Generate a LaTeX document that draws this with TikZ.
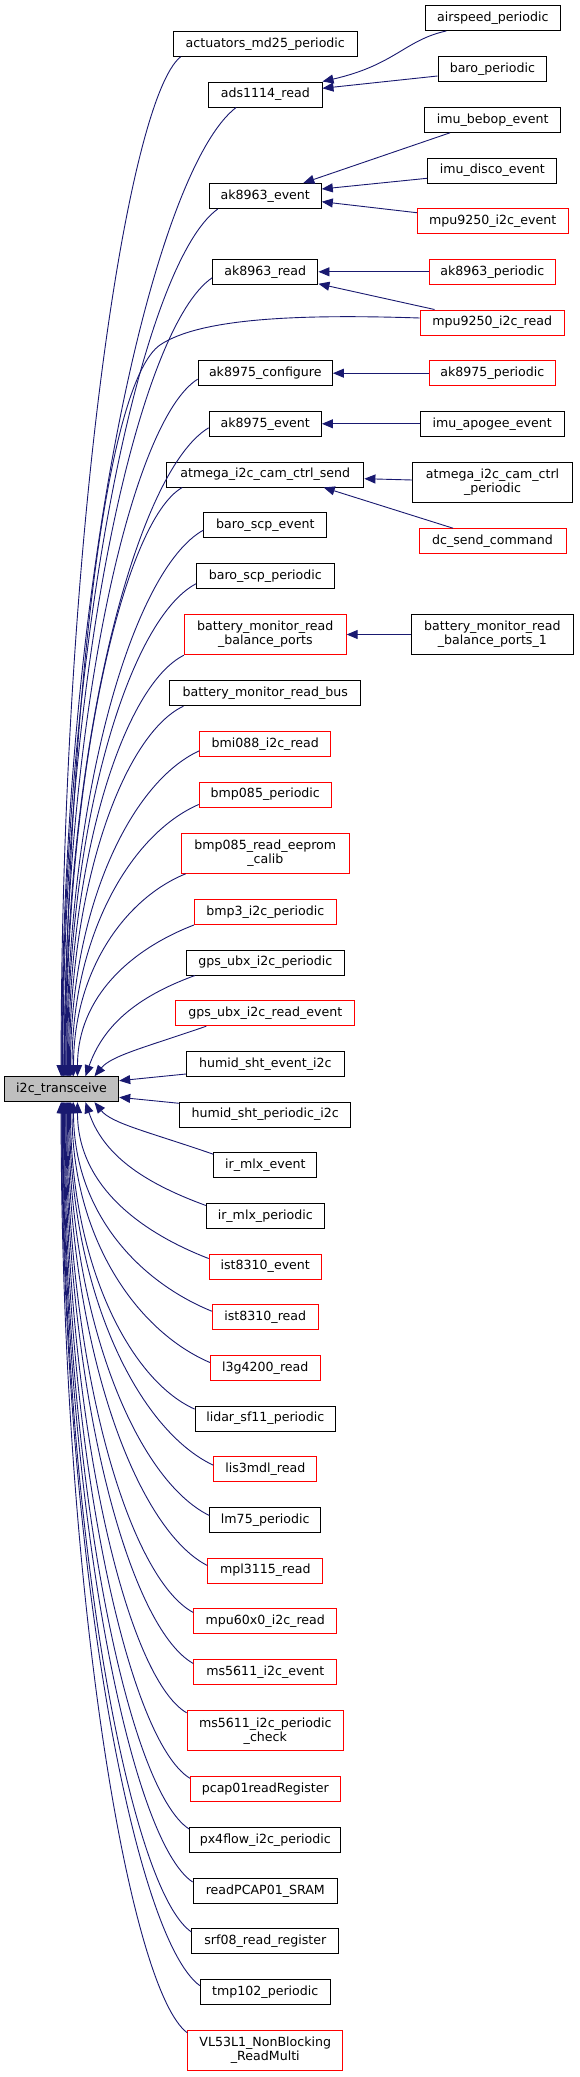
\documentclass[tikz,border=0pt]{standalone}
\usepackage{fontspec}
\setmainfont{DejaVu Sans}
\usetikzlibrary{arrows.meta,calc}
\definecolor{edgeblue}{HTML}{191970}
\definecolor{boxred}{HTML}{FF0000}
\definecolor{boxgray}{HTML}{BFBFBF}
\tikzset{
  fn/.style={draw=black, fill=white, line width=1pt, inner sep=0pt, minimum height=25pt,
    font=\fontsize{12.6}{14}\selectfont, align=center},
  redbox/.style={draw=boxred},
  twoline/.style={minimum height=40.4pt},
  focusbox/.style={fill=boxgray},
  callarrow/.style={draw=edgeblue, line width=0.9pt, -{Triangle[length=11pt,width=9pt]}}
}
\newcommand\upcall[4]{%
  \pgfmathsetmacro\dY{1077-#3}%
  \pgfmathsetmacro\dA{0.52*\dY}%
  \pgfmathsetmacro\dB{0.58*(#2-#4)}%
  \pgfmathsetmacro\aO{180+min(45,18+0.02*\dY)}%
  \pgfmathsetmacro\aI{90-max(0,60-0.4*\dY)}%
  \draw[callarrow] (#1) to[out=\aO,in=\aI,out distance=\dB pt,in distance=\dA pt] ($(i2c.north west)+(#4-4.3,0)$);
}
\newcommand\downcall[4]{%
  \pgfmathsetmacro\dY{#3-1102}%
  \pgfmathsetmacro\dA{0.52*\dY}%
  \pgfmathsetmacro\dB{0.58*(#2-#4)}%
  \pgfmathsetmacro\aO{180-min(45,18+0.02*\dY)}%
  \pgfmathsetmacro\aI{270+max(0,60-0.4*\dY)}%
  \draw[callarrow] (#1) to[out=\aO,in=\aI,out distance=\dB pt,in distance=\dA pt] ($(i2c.south west)+(#4-4.3,0)$);
}
\begin{document}
\begin{tikzpicture}[x=1pt,y=1pt]
\useasboundingbox[fill=white] (0,0) rectangle (579,-2077);
% focus node
\node[fn,focusbox,minimum width=114.4] (i2c) at (61.5,-1089.2) {i2c\_transceive};
% middle column
\node[fn,minimum width=184.3] (act) at (265.3,-43.8) {actuators\_md25\_periodic};
\node[fn,minimum width=113.4] (ads) at (265.3,-94.5) {ads1114\_read};
\node[fn,minimum width=112] (a63e) at (265.3,-196) {ak8963\_event};
\node[fn,minimum width=105.3] (a63r) at (265.3,-271.8) {ak8963\_read};
\node[fn,minimum width=134.3] (a75c) at (265.3,-373.2) {ak8975\_configure};
\node[fn,minimum width=112.3] (a75e) at (265.3,-423.8) {ak8975\_event};
\node[fn,minimum width=197.2] (ats) at (265.3,-474.5) {atmega\_i2c\_cam\_ctrl\_send};
\node[fn,minimum width=123] (bse) at (265.3,-525.2) {baro\_scp\_event};
\node[fn,minimum width=137.7] (bsp) at (265.3,-575.8) {baro\_scp\_periodic};
\node[fn,redbox,twoline,minimum width=161.7] (bbp) at (265.3,-634.5) {battery\_monitor\_read\\\_balance\_ports};
\node[fn,minimum width=190.9] (bbus) at (265.3,-693.2) {battery\_monitor\_read\_bus};
\node[fn,redbox,minimum width=131] (bmi) at (265.3,-743.8) {bmi088\_i2c\_read};
\node[fn,redbox,minimum width=132.2] (b85p) at (265.3,-794.5) {bmp085\_periodic};
\node[fn,redbox,twoline,minimum width=168.3,minimum height=40] (b85e) at (265.3,-853.3) {bmp085\_read\_eeprom\\\_calib};
\node[fn,redbox,minimum width=141.7] (bmp3) at (265.3,-912) {bmp3\_i2c\_periodic};
\node[fn,minimum width=157.7] (gpsp) at (265.3,-962.5) {gps\_ubx\_i2c\_periodic};
\node[fn,redbox,minimum width=179] (gpsr) at (265.3,-1013.2) {gps\_ubx\_i2c\_read\_event};
\node[fn,minimum width=157.7] (hse) at (265.3,-1063.8) {humid\_sht\_event\_i2c};
\node[fn,minimum width=171] (hsp) at (265.3,-1114.5) {humid\_sht\_periodic\_i2c};
\node[fn,minimum width=103] (irme) at (265.3,-1165.2) {ir\_mlx\_event};
\node[fn,minimum width=117.7] (irmp) at (265.3,-1215.8) {ir\_mlx\_periodic};
\node[fn,redbox,minimum width=112.3] (iste) at (265.3,-1266.5) {ist8310\_event};
\node[fn,redbox,minimum width=106] (istr) at (265.3,-1317.2) {ist8310\_read};
\node[fn,redbox,minimum width=109.7] (l3g) at (265.3,-1367.8) {l3g4200\_read};
\node[fn,minimum width=140.3] (lid) at (265.3,-1418.5) {lidar\_sf11\_periodic};
\node[fn,redbox,minimum width=103] (lis) at (265.3,-1469.2) {lis3mdl\_read};
\node[fn,minimum width=111] (lm75) at (265.3,-1519.8) {lm75\_periodic};
\node[fn,redbox,minimum width=115] (mpl) at (265.3,-1570.5) {mpl3115\_read};
\node[fn,redbox,minimum width=143] (m60) at (265.3,-1621.2) {mpu60x0\_i2c\_read};
\node[fn,redbox,minimum width=143] (msev) at (265.3,-1671.8) {ms5611\_i2c\_event};
\node[fn,redbox,twoline,minimum width=156.3,minimum height=40] (msck) at (265.3,-1730.7) {ms5611\_i2c\_periodic\\\_check};
\node[fn,redbox,minimum width=149.7] (pcap) at (265.3,-1789.3) {pcap01readRegister};
\node[fn,minimum width=151] (px4) at (265.3,-1839.8) {px4flow\_i2c\_periodic};
\node[fn,minimum width=144.3] (rpc) at (265.3,-1890.7) {readPCAP01\_SRAM};
\node[fn,minimum width=147] (srf) at (265.3,-1941.3) {srf08\_read\_register};
\node[fn,minimum width=129.7] (tmp) at (265.3,-1992) {tmp102\_periodic};
\node[fn,redbox,twoline,minimum width=155,minimum height=40] (vl) at (265.3,-2050.3) {VL53L1\_NonBlocking\\\_ReadMulti};
% right column
\node[fn,minimum width=134.3] (asp) at (492.85,-18) {airspeed\_periodic};
\node[fn,minimum width=108.7] (bp) at (492.35,-69.2) {baro\_periodic};
\node[fn,minimum width=135.9] (ibe) at (492.65,-119.8) {imu\_bebop\_event};
\node[fn,minimum width=129.3] (idi) at (492.25,-170.5) {imu\_disco\_event};
\node[fn,redbox,minimum width=150.7] (m92e) at (492.65,-221.3) {mpu9250\_i2c\_event};
\node[fn,redbox,minimum width=126.8] (a63p) at (492.4,-271.8) {ak8963\_periodic};
\node[fn,redbox,minimum width=144.1] (m92r) at (492.25,-322.5) {mpu9250\_i2c\_read};
\node[fn,redbox,minimum width=126.8] (a75p) at (492.4,-373.2) {ak8975\_periodic};
\node[fn,minimum width=144.1] (iap) at (492.25,-423.8) {imu\_apogee\_event};
\node[fn,twoline,minimum width=159.6] (atp) at (492.6,-482.5) {atmega\_i2c\_cam\_ctrl\\\_periodic};
\node[fn,redbox,minimum width=147] (dcs) at (492.5,-541.2) {dc\_send\_command};
\node[fn,twoline,minimum width=161.3] (bbp1) at (492.35,-634.5) {battery\_monitor\_read\\\_balance\_ports\_1};
% right column -> middle column
\draw[callarrow] ($(asp.south west)+(21,0)$) .. controls (405,-40) and (395,-65) .. (ads.north east);
\draw[callarrow] ($(bp.west)+(0,-6.8)$) -- ($(ads.east)+(0,6.2)$);
\draw[callarrow] ($(ibe.south west)+(25.8,0)$) -- ($(a63e.north east)+(-18.5,0)$);
\draw[callarrow] ($(idi.west)+(0,-7.8)$) -- ($(a63e.east)+(0,7)$);
\draw[callarrow] ($(m92e.west)+(0,8.6)$) -- ($(a63e.east)+(0,-5.7)$);
\draw[callarrow] (a63p.west) -- (a63r.east);
\draw[callarrow] ($(m92r.north west)+(14.8,0)$) -- ($(a63r.south east)+(0,1)$);
\draw[callarrow] (a75p.west) -- (a75c.east);
\draw[callarrow] (iap.west) -- (a75e.east);
\draw[callarrow] ($(atp.west)+(0,2.5)$) -- ($(ats.east)+(0,-4.2)$);
\draw[callarrow] ($(dcs.north west)+(34.5,0)$) -- ($(ats.south east)+(-40.7,0)$);
\draw[callarrow] (bbp1.west) -- (bbp.east);
% direct to i2c from the right
\draw[callarrow] ($(hse.west)+(0,-10.2)$) -- ($(i2c.east)+(0,8.5)$);
\draw[callarrow] ($(hsp.west)+(0,11.2)$) -- ($(i2c.east)+(0,-8.1)$);
% mpu9250_i2c_read -> i2c
\draw[callarrow] ($(m92r.west)+(0,4.5)$) .. controls (300,-314) and (200,-318) .. (160,-345)
  .. controls (110,-380) and (72,-650) .. ($(i2c.north west)+(64-4.3,0)$);
% callers above
\upcall{$(act.south west)+(8,0)$}{181.2}{56.3}{61.6}
\upcall{$(ads.south west)+(28,0)$}{236.6}{107}{62.2}
\upcall{$(a63e.south west)+(9,0)$}{218.4}{208.7}{62.8}
\upcall{$(a63r.west)+(0,-6)$}{212.7}{277.8}{63.4}
\upcall{$(a75c.west)+(0,-6)$}{198}{379.2}{64.8}
\upcall{$(a75e.west)+(0,-4)$}{209}{427.8}{65.6}
\upcall{$(ats.south west)+(16,0)$}{182.5}{487.3}{66.4}
\upcall{$(bse.west)+(0,-5)$}{203.8}{530.2}{67.2}
\upcall{$(bsp.west)+(0,-8)$}{196.5}{583.8}{68}
\upcall{bbp.south west}{184.3}{654.7}{69}
\upcall{$(bbus.south west)+(14,0)$}{183.5}{705.7}{70}
\upcall{$(bmi.west)+(0,-7)$}{199.4}{750.8}{71}
\upcall{$(b85p.west)+(0,-10)$}{199}{804.5}{72.5}
\upcall{$(b85e.south west)+(5,0)$}{186}{873.3}{74}
\upcall{bmp3.south west}{194.3}{924.5}{78}
\upcall{$(gpsp.south west)+(9,0)$}{195.3}{975.3}{86}
\upcall{$(gpsr.south west)+(31,0)$}{206.7}{1025.7}{95}
% callers below
\downcall{$(irme.north west)+(0,-2)$}{213.7}{1154.7}{95}
\downcall{$(irmp.north west)+(0,-2.7)$}{206.3}{1205.7}{86}
\downcall{$(iste.north west)+(0,-5)$}{209}{1259}{78}
\downcall{$(istr.north west)+(0,-7)$}{212.3}{1311.7}{74}
\downcall{$(l3g.north west)+(0,-7.7)$}{210.3}{1362.7}{72.5}
\downcall{$(lid.north west)+(0,-3.6)$}{195}{1409.6}{71}
\downcall{$(lis.north west)+(0,-9)$}{213.7}{1466}{70}
\downcall{$(lm75.north west)+(0,-8.7)$}{209.7}{1515.7}{69}
\downcall{$(mpl.north west)+(0,-8)$}{207.7}{1566}{68}
\downcall{$(m60.north west)+(0,-4.3)$}{193.7}{1612.9}{67.2}
\downcall{$(msev.north west)+(0,-4.7)$}{193.7}{1664}{66.4}
\downcall{$(msck.north west)+(0,-2.6)$}{187}{1713.3}{65.6}
\downcall{$(pcap.north west)+(0,-2)$}{190.3}{1778.6}{64.8}
\downcall{$(px4.north west)+(0,-2.3)$}{189.7}{1829.6}{64}
\downcall{$(rpc.north west)+(0,-4.3)$}{193}{1882.7}{63.4}
\downcall{$(srf.north west)+(0,-3.6)$}{191.7}{1932.4}{62.8}
\downcall{$(tmp.north west)+(0,-6.7)$}{200.3}{1986.4}{62.2}
\downcall{$(vl.north west)+(0,-3)$}{187.7}{2033.3}{61.6}
\end{tikzpicture}
\end{document}
